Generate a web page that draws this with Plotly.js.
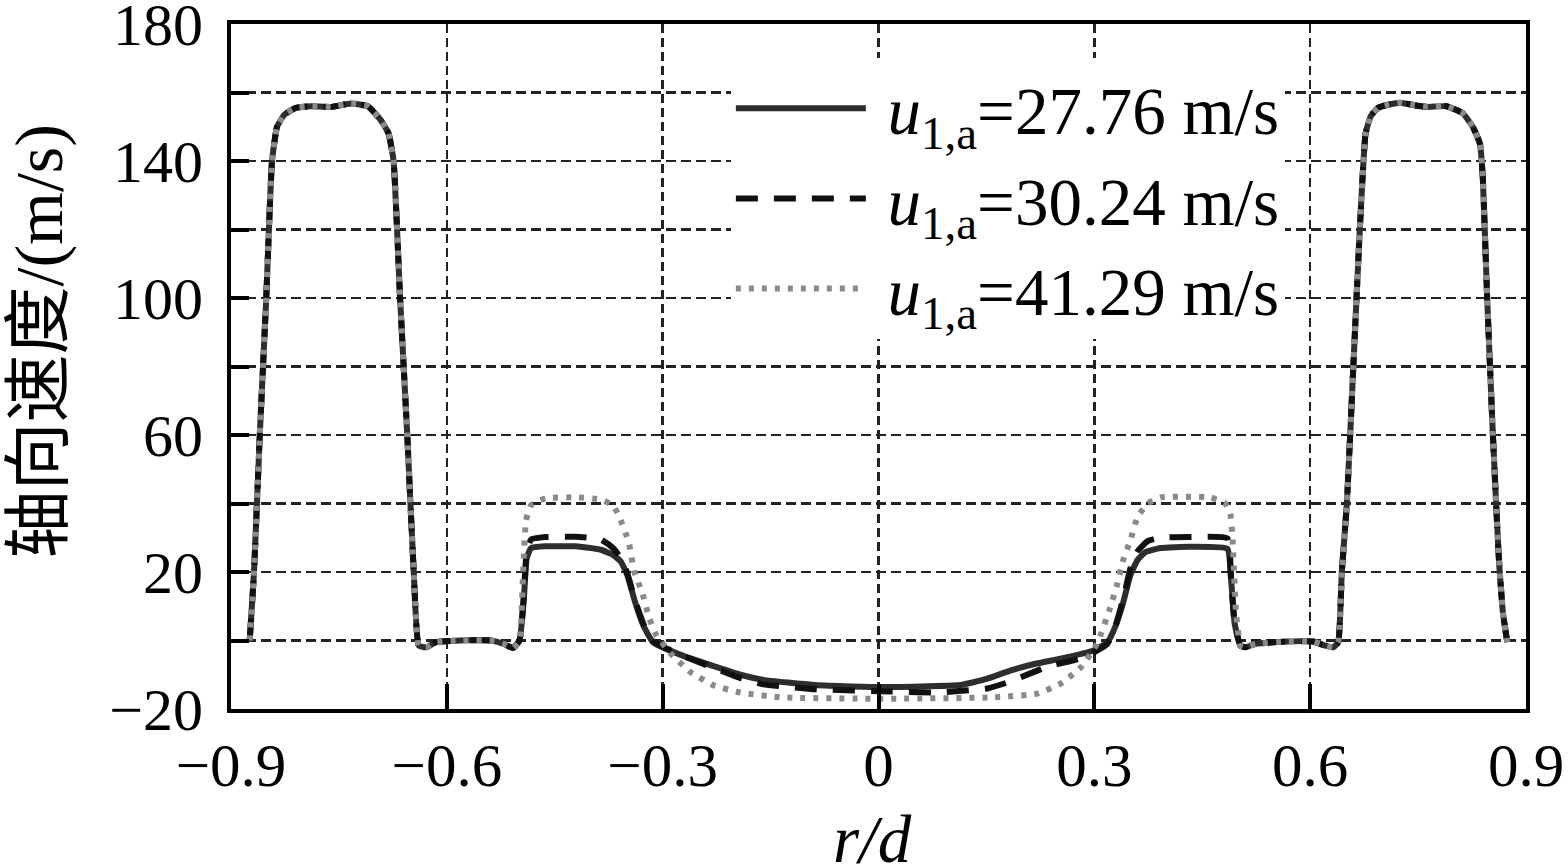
<!DOCTYPE html>
<html>
<head>
<meta charset="utf-8">
<script src="https://cdn.plot.ly/plotly-3.0.1.min.js"></script>
<style>
html, body { margin: 0; padding: 0; background: #fff; }
#plot { width: 1568px; height: 864px; }
</style>
</head>
<body>
<div id="plot"></div>
<script>
// outer jets, same for all three cases
var rOuterL = [-0.874, -0.868, -0.860, -0.851, -0.843, -0.836, -0.826, -0.810, -0.789, -0.761, -0.733, -0.710, -0.692, -0.681, -0.674, -0.665, -0.655, -0.646, -0.639, -0.629, -0.615, -0.581, -0.539, -0.521, -0.508, -0.499];
var vOuterL = [0, 20, 60, 100, 140, 150, 153.5, 155.5, 156, 155.8, 156.8, 156, 152, 148, 140, 100, 60, 20, -1.5, -2, -0.5, 0, 0, -1, -2.2, 0];
var rOuterR = [0.503, 0.510, 0.524, 0.568, 0.604, 0.621, 0.632, 0.639, 0.644, 0.651, 0.660, 0.669, 0.677, 0.684, 0.694, 0.710, 0.725, 0.745, 0.763, 0.789, 0.812, 0.826, 0.836, 0.840, 0.846, 0.854, 0.862, 0.868, 0.874];
var vOuterR = [-1.5, -2, -1, -0.3, -0.3, -1.5, -2, -0.5, 20, 40, 80, 120, 148, 153, 155.5, 156.5, 157, 156.3, 155.8, 156, 154, 150, 145, 135, 100, 60, 25, 8, -0.5];

// u1,a = 27.76 m/s
var rMid1 = [-0.493, -0.489, -0.483, -0.463, -0.421, -0.386, -0.369, -0.358, -0.349, -0.338, -0.326, -0.313, -0.275, -0.229, -0.192, -0.160, -0.090, 0, 0.114, 0.149, 0.183, 0.218, 0.253, 0.299, 0.318, 0.329, 0.340, 0.350, 0.360, 0.371, 0.392, 0.433, 0.485, 0.490, 0.495];
var vMid1 = [12, 24, 27, 27.5, 27.5, 26.5, 25, 23, 19, 11, 4, -0.6, -4.2, -7.5, -10, -11.5, -13, -13.6, -13, -11.3, -8.8, -6.8, -5.3, -2.9, -0.6, 4, 11, 19, 23.5, 25.8, 27, 27.4, 26.8, 18, 5];

// u1,a = 30.24 m/s
var rMid2 = [-0.493, -0.489, -0.483, -0.463, -0.421, -0.386, -0.369, -0.358, -0.349, -0.338, -0.326, -0.313, -0.275, -0.229, -0.192, -0.160, -0.090, 0, 0.082, 0.151, 0.183, 0.211, 0.239, 0.271, 0.299, 0.318, 0.329, 0.340, 0.350, 0.360, 0.374, 0.392, 0.433, 0.485, 0.490, 0.495];
var vMid2 = [13, 26, 29.5, 30.2, 30.3, 29.5, 27, 24, 19.5, 11.5, 4.5, -0.3, -4.2, -8, -11, -12.8, -14.2, -14.8, -15.2, -14, -12, -9.6, -7.3, -5.8, -3.5, -1, 4, 12, 21, 26, 29, 30, 30.2, 29.8, 18, 5];

// u1,a = 41.29 m/s
var rMid3 = [-0.494, -0.490, -0.483, -0.463, -0.421, -0.386, -0.369, -0.361, -0.347, -0.340, -0.328, -0.319, -0.310, -0.289, -0.261, -0.229, -0.192, -0.136, 0, 0.160, 0.221, 0.253, 0.281, 0.304, 0.322, 0.332, 0.340, 0.350, 0.360, 0.374, 0.392, 0.461, 0.482, 0.489, 0.492, 0.497];
var vMid3 = [20, 35, 39.5, 41.5, 41.8, 41.2, 39.4, 36.5, 28.6, 20.4, 13.7, 6.7, 2, -3.8, -9.3, -13.1, -15.2, -16.6, -17, -16.6, -15.5, -12.6, -7.9, -0.9, 9.6, 16.6, 23.4, 29.2, 36, 40, 41.8, 41.8, 40, 37, 30, 8];

var names = ['\u00a0<i>u</i><sub>1,a</sub>=27.76 m/s', '\u00a0<i>u</i><sub>1,a</sub>=30.24 m/s', '\u00a0<i>u</i><sub>1,a</sub>=41.29 m/s'];

var xTicks = [-0.9, -0.6, -0.3, 0, 0.3, 0.6, 0.9];
var xTickText = ['\u22120.9', '\u22120.6', '\u22120.3', '0', '0.3', '0.6', '0.9'];

function join(mid) {
    return rOuterL.concat(mid, rOuterR);
}
function joinV(mid) {
    return vOuterL.concat(mid, vOuterR);
}

var FONT = 'Liberation Serif, Times New Roman, Noto Sans CJK SC, serif';
var GRIDCOLOR = '#222';

var data = [
    {x: join(rMid1), y: joinV(vMid1), mode: 'lines', name: names[0],
     line: {color: '#2e2e2e', width: 6, shape: 'spline', smoothing: 0.4}},
    {x: join(rMid2), y: joinV(vMid2), mode: 'lines', name: names[1],
     line: {color: '#111111', width: 6, dash: '22px,16px', shape: 'spline', smoothing: 0.4}},
    {x: join(rMid3), y: joinV(vMid3), mode: 'lines', name: names[2],
     line: {color: '#8a8a8a', width: 6, dash: '5px,8px', shape: 'spline', smoothing: 0.4}}
];

var layout = {
    width: 1568, height: 864,
    margin: {l: 231, r: 42, t: 24, b: 155},
    paper_bgcolor: '#fff', plot_bgcolor: '#fff',
    font: {family: FONT, size: 60, color: '#000'},
    showlegend: true,
    legend: {x: 0.386, y: 0.95, xanchor: 'left', yanchor: 'top', bgcolor: '#fff',
             borderwidth: 0, font: {family: FONT, size: 67, color: '#000'}, itemwidth: 130},
    xaxis: {
        range: [-0.9, 0.9], tickvals: xTicks, ticktext: xTickText,
        ticks: 'inside', ticklen: 25, tickwidth: 4, tickcolor: '#000',
        showline: true, linewidth: 4, linecolor: '#000', mirror: true,
        showgrid: true, gridcolor: GRIDCOLOR, gridwidth: 2.5, griddash: '9px,5px',
        zeroline: false, ticklabeloverflow: 'allow',
        tickfont: {family: FONT, size: 61, color: '#000'}
    },
    yaxis: {
        range: [-20, 180], tick0: -20, dtick: 40,
        ticks: 'inside', ticklen: 18, tickwidth: 4, tickcolor: '#000',
        showline: true, linewidth: 4, linecolor: '#000', mirror: true,
        showgrid: true, gridcolor: GRIDCOLOR, gridwidth: 2.5, griddash: '10px,5px',
        zeroline: false, ticklabeloverflow: 'allow', ticklabelstandoff: 12,
        minor: {dtick: 20, ticks: 'inside', ticklen: 18, tickwidth: 4, tickcolor: '#000',
                showgrid: true, gridcolor: GRIDCOLOR, gridwidth: 2.5, griddash: '10px,5px'},
        tickfont: {family: FONT, size: 60, color: '#000'}
    },
    annotations: [{
        text: '轴向速度/(m/s)', xref: 'paper', yref: 'paper',
        x: -0.148, y: 0.537, xanchor: 'center', yanchor: 'middle', textangle: -90,
        showarrow: false, font: {family: FONT, size: 68, color: '#000'}
    }, {
        text: '<i>r/d</i>', xref: 'paper', yref: 'paper',
        x: 0.495, y: -0.19, xanchor: 'center', yanchor: 'middle',
        showarrow: false, font: {family: FONT, size: 67, color: '#000'}
    }]
};

Plotly.newPlot('plot', data, layout, {staticPlot: true});
</script>
</body>
</html>
